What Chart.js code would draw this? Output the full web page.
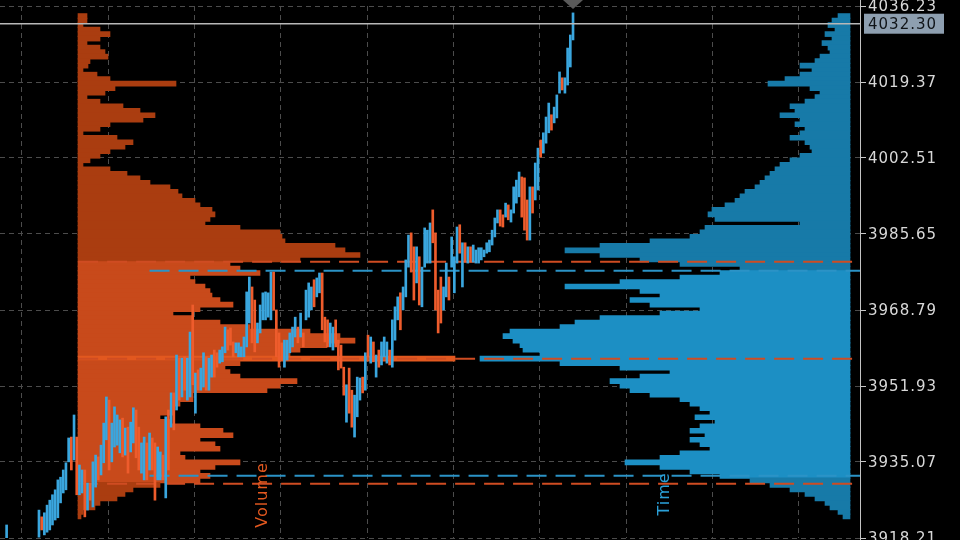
<!DOCTYPE html>
<html><head><meta charset="utf-8">
<script src="https://cdn.jsdelivr.net/npm/chart.js@4.4.1/dist/chart.umd.min.js"></script>
<style>html,body{margin:0;padding:0;background:#000;overflow:hidden}</style>
</head><body>
<canvas id="c" width="960" height="540"></canvas>
<script>
// ---- price axis ticks ----
const tickValues = [3918.21, 3935.07, 3951.93, 3968.79, 3985.65, 4002.51, 4019.37, 4036.23];
const lastPrice = 4032.30;

// ---- price bars (high / low / direction: 1 = up (blue), 0 = down (orange)) ----
const barHigh = [
3921.1,3917.0,3916.2,3915.5,3916.8,3917.5,3916.9,3917.6,3917.9,3917.2,
3917.8,3917.9,3924.4,3922.9,3923.8,3925.5,3926.6,3927.8,3928.9,3931.1,
3931.7,3933.3,3934.9,3940.4,3940.6,3945.5,3940.6,3934.4,3933.3,3933.3,
3930.4,3930.4,3935.1,3936.6,3936.2,3938.8,3943.7,3949.5,3948.8,3943.7,
3947.3,3945.5,3944.4,3944.8,3942.6,3942.8,3943.9,3947.1,3946.6,3942.8,
3939.3,3940.6,3939.3,3941.5,3940.4,3939.3,3938.4,3937.3,3936.6,3945.1,
3946.6,3950.4,3950.4,3958.8,3958.1,3958.1,3958.4,3958.1,3963.9,3969.9,
3954.8,3955.5,3955.9,3959.3,3958.4,3958.1,3958.8,3959.9,3959.3,3959.9,
3960.6,3965.0,3964.4,3964.8,3961.7,3961.5,3961.5,3960.6,3962.8,3972.8,
3976.1,3973.9,3971.0,3965.9,3969.9,3972.6,3972.8,3972.6,3977.2,3977.2,
3968.8,3963.7,3961.5,3962.1,3962.1,3963.7,3965.0,3967.2,3965.0,3968.1,
3963.7,3973.2,3974.8,3973.9,3975.5,3975.9,3977.0,3977.0,3967.2,3966.6,
3965.9,3965.0,3966.6,3962.1,3961.0,3956.1,3952.2,3955.9,3951.0,3949.9,
3953.9,3953.7,3953.9,3959.3,3963.2,3962.8,3961.7,3958.8,3959.9,3961.7,
3962.8,3961.7,3959.9,3966.6,3969.5,3971.7,3972.6,3973.9,3979.9,3985.4,
3985.9,3982.8,3982.8,3980.6,3978.3,3987.0,3986.5,3988.1,3991.0,3985.9,
3973.2,3976.1,3973.9,3979.2,3976.1,3985.0,3980.6,3987.2,3987.7,3983.7,
3983.7,3982.8,3982.8,3983.2,3982.1,3982.6,3982.6,3982.1,3983.7,3984.3,
3986.5,3989.2,3991.0,3991.0,3989.9,3992.5,3992.1,3991.0,3996.1,3997.6,
3999.4,3998.3,3998.1,3993.2,3996.1,3996.1,4001.4,4004.7,4006.5,4008.1,
4011.6,4014.7,4012.1,4013.8,4016.5,4021.6,4020.3,4020.3,4026.9,4029.8,4034.7
];
const barLow = [
3916.7,3913.5,3912.8,3911.9,3913.0,3914.2,3913.6,3914.8,3915.0,3914.1,
3914.9,3915.3,3918.4,3920.0,3918.9,3919.5,3920.0,3921.1,3922.2,3922.7,
3926.0,3928.2,3928.9,3935.1,3933.3,3935.5,3927.8,3927.8,3928.2,3922.9,
3924.4,3926.6,3925.1,3929.5,3931.1,3932.2,3934.9,3940.0,3933.3,3935.1,
3938.4,3938.8,3937.1,3936.2,3936.6,3932.6,3937.3,3939.3,3936.0,3933.3,
3932.6,3931.1,3931.1,3933.3,3933.3,3926.6,3931.1,3931.1,3931.1,3927.1,
3933.3,3942.8,3942.2,3946.6,3948.8,3949.5,3951.0,3948.8,3949.5,3952.2,
3945.9,3951.0,3951.0,3951.7,3951.0,3951.0,3953.9,3953.9,3956.1,3957.0,
3957.3,3959.3,3959.9,3961.0,3958.4,3959.3,3958.4,3958.4,3958.4,3960.6,
3965.9,3961.5,3959.5,3961.5,3963.7,3966.6,3966.6,3967.2,3966.6,3968.8,
3958.4,3956.1,3957.7,3956.1,3957.7,3959.3,3960.6,3962.8,3961.5,3962.8,
3960.6,3966.6,3967.2,3968.8,3969.5,3971.7,3972.6,3964.4,3961.7,3960.6,
3960.6,3959.9,3960.6,3955.5,3955.9,3949.9,3943.9,3945.9,3942.8,3940.6,
3945.1,3948.8,3950.4,3951.0,3958.4,3957.0,3957.3,3953.9,3956.1,3956.6,
3958.4,3957.0,3956.6,3956.1,3962.1,3966.6,3964.4,3968.8,3971.7,3978.3,
3977.2,3971.0,3974.8,3969.9,3969.5,3978.3,3979.2,3979.2,3983.7,3968.8,
3963.7,3965.9,3968.8,3971.7,3971.0,3978.3,3972.6,3979.2,3981.4,3973.9,
3979.4,3979.2,3979.4,3979.4,3979.2,3979.2,3979.9,3980.6,3981.4,3981.7,
3983.2,3985.0,3988.1,3987.4,3987.2,3989.4,3988.8,3988.3,3990.3,3992.5,
3993.9,3989.4,3986.5,3984.3,3984.3,3990.3,3993.2,3995.4,4002.7,4003.6,
4005.8,4008.1,4008.7,4010.3,4011.4,4016.9,4017.6,4016.9,4018.7,4022.7,4028.7
];
const barDir = [
1,0,1,0,1,1,0,1,1,0, 1,1,1,0,1,1,1,1,1,1, 1,1,1,1,0,1,0,1,1,0, 1,0,1,1,0,1,1,1,0,1,
1,1,1,0,1,0,1,1,0,0, 1,1,0,1,0,0,1,1,0,1, 0,1,0,1,0,1,0,1,1,0, 1,0,1,1,0,1,1,0,0,1,
1,1,0,0,0,1,1,1,1,1, 1,0,0,1,1,1,1,1,1,0, 0,0,0,1,1,1,1,1,0,1, 0,1,1,1,0,1,1,0,0,0,
1,1,0,0,0,0,1,0,0,1, 1,1,0,1,0,1,0,1,0,1, 1,1,0,1,1,1,0,1,1,1, 0,0,1,0,1,1,1,1,0,0,
0,0,1,1,0,1,1,1,0,1, 0,1,0,1,1,1,1,1,1,1, 1,1,1,0,0,1,0,1,1,1, 1,0,0,0,1,0,1,1,0,1,
1,1,0,1,1,1,0,1,1,1,1
];

// ---- profile price levels ----
const levels = [
4034,4033,4032,4031,4030,4029,4028,4027,4026,4025,4024,4023,4022,4021,4020,4019,4018,4017,4016,4015,
4014,4013,4012,4011,4010,4009,4008,4007,4006,4005,4004,4003,4002,4001,4000,3999,3998,3997,3996,3995,
3994,3993,3992,3991,3990,3989,3988,3987,3986,3985,3984,3983,3982,3981,3980,3979,3978,3977,3976,3975,
3974,3973,3972,3971,3970,3969,3968,3967,3966,3965,3964,3963,3962,3961,3960,3959,3958,3957,3956,3955,
3954,3953,3952,3951,3950,3949,3948,3947,3946,3945,3944,3943,3942,3941,3940,3939,3938,3937,3936,3935,
3934,3933,3932,3931,3930,3929,3928,3927,3926,3925,3924,3923
];
// volume traded at each level
const volume = [
180,180,100,440,640,440,180,440,540,600,
240,200,100,380,640,1960,740,540,180,440,
900,1240,1540,1300,640,440,100,780,1100,940,
640,440,240,100,640,980,1240,1440,1840,2000,
2080,2340,2440,2680,2740,2640,2540,3240,4040,4080,
4140,5140,5340,5640,4440,3040,3240,3640,2240,2340,
2540,2640,2680,2840,3100,2440,1900,2300,2840,3440,
4640,5240,5540,4980,4440,4240,7540,3240,2940,3040,
3240,4380,4040,3780,2300,2300,2040,1900,1900,1640,
1840,2440,2900,3100,2440,2740,2840,2040,2140,3240,
2740,2440,2640,2440,1640,1100,940,780,440,340,
100,60
];
// time spent at each level
const timeAt = [
2.4,3.6,4.4,3.0,5.0,3.6,5.6,4.4,4.0,6.0,
7.0,10.0,7.6,10.0,13.0,16.4,8.0,6.0,7.0,9.0,
12.0,11.0,14.0,10.0,11.0,9.0,10.0,12.0,9.0,8.0,
7.6,10.0,12.0,14.0,15.0,16.0,17.0,18.0,19.0,21.0,
22.0,23.0,25.0,27.6,28.4,27.0,10.0,29.0,30.0,32.0,
40.0,50.0,57.0,50.0,42.0,34.0,22.0,26.0,34.0,46.0,
57.0,42.0,38.0,44.0,40.0,30.0,38.0,50.0,55.0,58.0,
68.0,69.4,67.4,66.0,65.4,62.0,74.0,58.0,46.0,36.0,
42.0,48.0,46.0,44.0,40.0,34.0,32.0,30.0,28.0,31.0,
27.0,30.0,32.0,29.0,32.0,30.0,28.0,34.0,38.0,45.0,
38.0,32.0,26.0,20.0,16.0,12.0,9.0,7.0,5.0,4.0,
2.4,1.4
];
// value areas / point of control
const volPOC = 3958, volVAH = 3979.5, volVAL = 3930.25;
const timeVAH = 3977.5, timeVAL = 3932.0;

// ---- styling ----
const UP = '#3aa6de', DOWN = '#ee5c2c';
const VOL_OUT = '#aa3d10', VOL_IN = '#c84a1b', VOL_POC = '#e2581f';
const TIME_OUT = '#177aa8', TIME_IN = '#1c8fc4';
const GRID = '#4c4c4c';
const X_MIN = -2.45, X_MAX = 316.4;          // bar-index range of the plot
const GRID_X = [5.7, 37.7, 69.7, 101.7, 133.7, 165.7, 197.7, 229.7, 261.7, 293.7];
const VOL_LINE_START = 26.5, TIME_LINE_START = 53;

function hLine(y, start, color) {
  return { type: 'line', xAxisID: 'x', yAxisID: 'y', order: 1,
    data: [{x: start, y: y}, {x: X_MAX, y: y}],
    borderColor: color, borderWidth: 2, borderDash: [20, 9],
    pointRadius: 0, fill: false, tension: 0 };
}

const overlay = {
  id: 'overlay',
  afterDraw(chart) {
    const {ctx, chartArea, scales} = chart;
    const y = scales.y, x = scales.x;
    ctx.save();
    ctx.letterSpacing = '1px';
    // axis line
    ctx.strokeStyle = '#c4c4c4'; ctx.lineWidth = 1;
    ctx.beginPath(); ctx.moveTo(chartArea.right + 0.5, 0); ctx.lineTo(chartArea.right + 0.5, chart.height); ctx.stroke();
    // tick labels
    ctx.font = '15px "DejaVu Sans"'; ctx.textBaseline = 'middle'; ctx.textAlign = 'left';
    ctx.fillStyle = '#d8d8d8';
    tickValues.forEach(v => ctx.fillText(v.toFixed(2), chartArea.right + 8, y.getPixelForValue(v) + 1));
    // last price line + label
    const py = y.getPixelForValue(lastPrice);
    ctx.strokeStyle = '#b8b8b8'; ctx.lineWidth = 1.5;
    ctx.beginPath(); ctx.moveTo(chartArea.left, py); ctx.lineTo(chartArea.right, py); ctx.stroke();
    ctx.fillStyle = '#8e9fb0';
    ctx.fillRect(chartArea.right + 4, py - 10, 80, 20);
    ctx.fillStyle = '#101418';
    ctx.fillText(lastPrice.toFixed(2), chartArea.right + 8, py + 1);
    // marker above last bar
    const mx = x.getPixelForValue(barHigh.length - 1);
    ctx.fillStyle = '#5a5a5a';
    ctx.beginPath(); ctx.moveTo(mx - 10, 0); ctx.lineTo(mx + 10, 0); ctx.lineTo(mx, 9); ctx.closePath(); ctx.fill();
    // profile titles
    ctx.font = '16px "DejaVu Sans"'; ctx.textAlign = 'center';
    ctx.save(); ctx.translate(263, 495); ctx.rotate(-Math.PI / 2);
    ctx.fillStyle = '#e2581f'; ctx.fillText('Volume', 0, 0); ctx.restore();
    ctx.save(); ctx.translate(665, 494); ctx.rotate(-Math.PI / 2);
    ctx.fillStyle = '#2aa0d8'; ctx.fillText('Time', 0, 0); ctx.restore();
    ctx.restore();
  }
};

new Chart(document.getElementById('c'), {
  type: 'bar',
  data: {
    datasets: [
      { type: 'bar', label: 'Price', indexAxis: 'x', xAxisID: 'x', yAxisID: 'y', order: 0,
        data: barHigh.map((h, i) => ({x: i, y: [barLow[i], h]})),
        backgroundColor: c => barDir[c.dataIndex] ? UP : DOWN,
        barThickness: 2, grouped: false, borderWidth: 0 },
      hLine(volVAH, VOL_LINE_START, '#cf4c22'),
      hLine(volVAL, VOL_LINE_START, '#cf4c22'),
      hLine(volPOC, VOL_LINE_START, '#cf4c22'),
      hLine(timeVAH, TIME_LINE_START, '#2b93c6'),
      hLine(timeVAL, TIME_LINE_START, '#2b93c6'),
      { type: 'bar', label: 'Volume', indexAxis: 'y', xAxisID: 'xv', yAxisID: 'y', order: 2,
        data: levels.map((p, i) => ({x: volume[i], y: p})),
        backgroundColor: c => { const p = levels[c.dataIndex];
          return p === volPOC ? VOL_POC : (p <= volVAH && p >= volVAL ? VOL_IN : VOL_OUT); },
        barThickness: 5, grouped: false, borderWidth: 0 },
      { type: 'bar', label: 'Time', indexAxis: 'y', xAxisID: 'xt', yAxisID: 'y', order: 3,
        data: levels.map((p, i) => ({x: timeAt[i], y: p})),
        backgroundColor: c => { const p = levels[c.dataIndex];
          return (p <= timeVAH && p >= timeVAL) ? TIME_IN : TIME_OUT; },
        barThickness: 5, grouped: false, borderWidth: 0 }
    ]
  },
  options: {
    responsive: false, animation: false, devicePixelRatio: 1,
    layout: { autoPadding: false, padding: {top: 6, bottom: 2, left: 0, right: 0} },
    plugins: { legend: {display: false}, tooltip: {enabled: false} },
    scales: {
      x: { type: 'linear', axis: 'x', position: 'bottom', min: X_MIN, max: X_MAX, offset: false, z: 1,
           ticks: {display: false}, border: {display: false, dash: [5, 4]},
           grid: {color: GRID, drawTicks: false, offset: false},
           afterBuildTicks: s => { s.ticks = GRID_X.map(v => ({value: v})); },
           afterFit: s => { s.height = 0; } },
      xv: { type: 'linear', axis: 'x', display: false, min: -1560, max: 15640, offset: false },
      xt: { type: 'linear', axis: 'x', display: false, min: -2, max: 170, reverse: true, offset: false },
      y: { type: 'linear', axis: 'y', position: 'right', min: 3918.21, max: 4036.23, beginAtZero: false, offset: false, z: 1,
           afterBuildTicks: s => { s.ticks = tickValues.map(v => ({value: v})); },
           afterFit: s => { s.width = 100; },
           ticks: {display: false},
           grid: {color: GRID, tickColor: '#c8c8c8', tickLength: 6, tickWidth: 1, tickBorderDash: [], offset: false},
           border: {display: false, dash: [5, 4]} }
    }
  },
  plugins: [overlay]
});
</script>
</body></html>
